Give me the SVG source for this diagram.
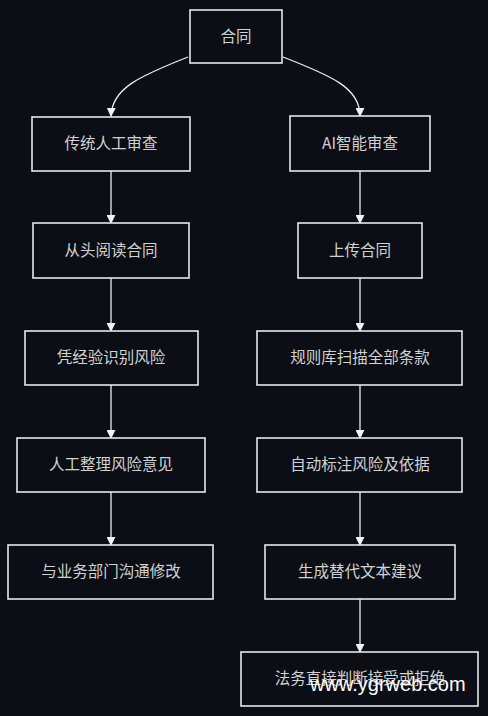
<svg xmlns="http://www.w3.org/2000/svg" width="488" height="716" viewBox="0 0 488 716">
<defs>
<style>
.box{fill:#0b0e14;stroke:#e8e8e8;stroke-width:1.6}
.lbl{font-family:"Noto Sans CJK SC","Noto Sans",sans-serif;font-size:15.5px;fill:#d2d2d2;text-anchor:middle;dominant-baseline:central}
.edge{fill:none;stroke:#eeeeee;stroke-width:1.3}
.wm{font-family:"Liberation Sans","DejaVu Sans",sans-serif;font-size:20px;fill:#ffffff}
</style>
<marker id="arr" viewBox="0 0 10 10" refX="9" refY="5" markerWidth="9" markerHeight="9" markerUnits="userSpaceOnUse" orient="auto">
<path d="M0,0 L10,5 L0,10 z" fill="#f2f2f2"/>
</marker>
</defs>
<rect width="488" height="716" fill="#0b0e14"/>
<g id="edges">
<path class="edge" marker-end="url(#arr)" d="M188,57 C140,76 112,88 111,116"/>
<path class="edge" marker-end="url(#arr)" d="M283,57 C332,76 360,88 360,116"/>
<path class="edge" marker-end="url(#arr)" d="M111,171 L111,223"/>
<path class="edge" marker-end="url(#arr)" d="M111,278 L111,331"/>
<path class="edge" marker-end="url(#arr)" d="M111,385 L111,438"/>
<path class="edge" marker-end="url(#arr)" d="M111,492 L111,545"/>
<path class="edge" marker-end="url(#arr)" d="M360,171 L360,223"/>
<path class="edge" marker-end="url(#arr)" d="M360,278 L360,331"/>
<path class="edge" marker-end="url(#arr)" d="M360,385 L360,438"/>
<path class="edge" marker-end="url(#arr)" d="M360,492 L360,545"/>
<path class="edge" marker-end="url(#arr)" d="M360,599 L360,652"/>
</g>
<g id="n0"><rect class="box" x="190" y="10" width="92" height="53"/><text class="lbl" x="236" y="34.5">合同</text></g>
<g id="n1"><rect class="box" x="32" y="117" width="158" height="54"/><text class="lbl" x="111" y="142">传统人工审查</text></g>
<g id="n2"><rect class="box" x="33" y="223" width="156" height="55"/><text class="lbl" x="111" y="248.5">从头阅读合同</text></g>
<g id="n3"><rect class="box" x="25" y="331" width="173" height="54"/><text class="lbl" x="111" y="356">凭经验识别风险</text></g>
<g id="n4"><rect class="box" x="17" y="438" width="188" height="54"/><text class="lbl" x="111" y="463">人工整理风险意见</text></g>
<g id="n5"><rect class="box" x="8" y="545" width="205" height="54"/><text class="lbl" x="111" y="570">与业务部门沟通修改</text></g>
<g id="n6"><rect class="box" x="290" y="116" width="140" height="55"/><text class="lbl" x="360" y="141.5">AI智能审查</text></g>
<g id="n7"><rect class="box" x="298" y="223" width="124" height="55"/><text class="lbl" x="360" y="248.5">上传合同</text></g>
<g id="n8"><rect class="box" x="257" y="331" width="205" height="54"/><text class="lbl" x="360" y="356">规则库扫描全部条款</text></g>
<g id="n9"><rect class="box" x="257" y="438" width="205" height="54"/><text class="lbl" x="360" y="463">自动标注风险及依据</text></g>
<g id="n10"><rect class="box" x="265" y="545" width="190" height="54"/><text class="lbl" x="360" y="570">生成替代文本建议</text></g>
<g id="n11"><rect class="box" x="241" y="652" width="237" height="54"/><text class="lbl" x="360" y="677">法务直接判断接受或拒绝</text></g>
<text class="wm" x="310" y="691">www.ygrweb.com</text>
</svg>
